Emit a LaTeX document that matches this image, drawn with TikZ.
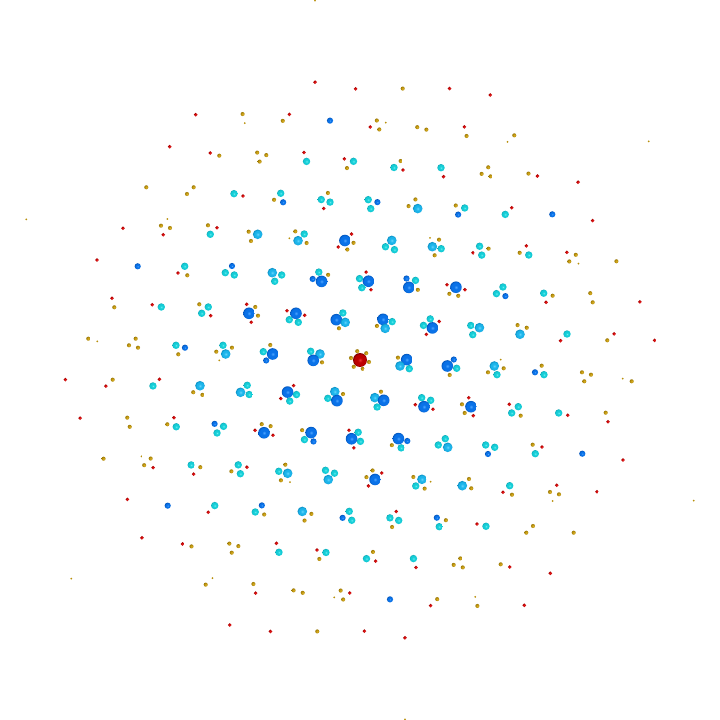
\documentclass[tikz,border=0pt]{standalone}
\usepackage{etoolbox}
\definecolor{Bhi}{HTML}{4CA4FF}\definecolor{Bmid}{HTML}{0A72E8}\definecolor{Bedge}{HTML}{0054BC}
\definecolor{Chi}{HTML}{6AD8FF}\definecolor{Cmid}{HTML}{1CB4EA}\definecolor{Cedge}{HTML}{0A8CC0}
\definecolor{chi}{HTML}{6AF2F2}\definecolor{cmid}{HTML}{14CCD6}\definecolor{cedge}{HTML}{08A2B0}
\definecolor{Ghi}{HTML}{DDB22A}\definecolor{Gmid}{HTML}{B8900C}\definecolor{Gedge}{HTML}{8C6C00}
\definecolor{Rhi}{HTML}{E82424}\definecolor{Rmid}{HTML}{C40000}\definecolor{Redge}{HTML}{900000}
\definecolor{Xhi}{HTML}{E83030}\definecolor{Xmid}{HTML}{BC0000}\definecolor{Xedge}{HTML}{780000}
\pgfdeclareradialshading{shB}{\pgfpoint{0bp}{0bp}}{color(0bp)=(Bhi); color(9bp)=(Bmid); color(21bp)=(Bmid); color(25bp)=(Bedge); color(50bp)=(Bedge)}
\pgfdeclareradialshading{shb}{\pgfpoint{0bp}{0bp}}{color(0bp)=(Bhi); color(9bp)=(Bmid); color(21bp)=(Bmid); color(25bp)=(Bedge); color(50bp)=(Bedge)}
\pgfdeclareradialshading{shC}{\pgfpoint{0bp}{0bp}}{color(0bp)=(Chi); color(9bp)=(Cmid); color(21bp)=(Cmid); color(25bp)=(Cedge); color(50bp)=(Cedge)}
\pgfdeclareradialshading{shc}{\pgfpoint{0bp}{0bp}}{color(0bp)=(chi); color(9bp)=(cmid); color(21bp)=(cmid); color(25bp)=(cedge); color(50bp)=(cedge)}
\pgfdeclareradialshading{shG}{\pgfpoint{0bp}{0bp}}{color(0bp)=(Ghi); color(9bp)=(Gmid); color(21bp)=(Gmid); color(25bp)=(Gedge); color(50bp)=(Gedge)}
\pgfdeclareradialshading{shg}{\pgfpoint{0bp}{0bp}}{color(0bp)=(Gmid); color(50bp)=(Gmid)}
\pgfdeclareradialshading{shR}{\pgfpoint{0bp}{0bp}}{color(0bp)=(Rhi); color(9bp)=(Rmid); color(21bp)=(Rmid); color(25bp)=(Redge); color(50bp)=(Redge)}
\pgfdeclareradialshading{shX}{\pgfpoint{0bp}{0bp}}{color(0bp)=(Xhi); color(9bp)=(Xmid); color(21bp)=(Xmid); color(25bp)=(Xedge); color(50bp)=(Xedge)}
\def\radB{5.8}\def\radb{3.1}\def\radC{4.8}\def\radc{3.7}
\def\radG{2.05}\def\radg{1.0}\def\radR{1.9}\def\radX{7.0}
\newcommand\atom[3]{\shade[shading=sh#3] (#1,#2) circle[radius=\csname rad#3\endcsname];}
\begin{document}
\begin{tikzpicture}[x=1pt,y=-1pt]
\useasboundingbox (-360,-360) rectangle (360,360);
\csxappto{atb400}{\noexpand\atom{0}{0}{X}}
\foreach \ang in {0,60,...,300}{
 \foreach \qx/\qy/\qt in {
  9/2/G, 40/6/C, 49.3/8.7/c, 87.3/6/B, 96.7/8.3/c, 89.7/15/G, 134.3/6/C,
  137/14.7/c, 128/12.3/G, 143.7/8.3/G, 70.7/121.7/g, 23.7/40.3/B, 21/31.7/G,
  61.7/37.7/c, 70.7/40.3/c, 64/46.7/B, 55.3/44.7/R, 73/49.3/R, 108.7/37.7/R,
  102/44.3/G, 111/46.7/B, 104.7/53/G, 113.3/55.7/R, 149.3/44.3/R, 158.3/46.7/c,
  151.7/53/c, 160.7/55.7/G, 47.3/81/b, 85.3/78.7/c, 78.3/85/c, 87.7/87.3/C,
  125.7/85/c, 134.7/87.3/c, 128/94/b, 109/119/G, 102.3/125.7/C, 111.3/128.3/G,
  149.7/125.7/c, 143/132.3/R, 152/134.7/G, 181.7/5.7/G, 175/12.3/b, 184/14.7/c,
  222/12.3/G, 231/14.7/G, 224.3/21.3/G, 262.7/18.7/g, 271.7/21.3/G, 198.7/53/c,
  207.7/55.3/R, 245.7/52.7/G, 248/61.7/R, 172.7/84.7/G, 182/87/R, 175.3/93.7/c,
  222.3/93.7/b, 263/100/R, 196.7/125.3/R, 190/132/G, 199/134.3/G, 192.7/141/g,
  237/131.7/R, 333.7/140.7/g, 117/164/R, 126/166.3/c, 166.3/172.7/G,
  140.7/204.3/G, 149.7/207/R, 164.3/245.3/R, 173/166/G, 213.7/172.7/G,
  190.3/213.3/R}{
   \pgfmathsetmacro\rx{\qx*cos(\ang)-\qy*sin(\ang)}
   \pgfmathsetmacro\ry{\qx*sin(\ang)+\qy*cos(\ang)}
   \pgfmathtruncatemacro\bd{\ry+400}
   \csxappto{atb\bd}{\noexpand\atom{\rx}{\ry}{\qt}}
 }
}
\foreach \b in {0,...,800}{\csname atb\b\endcsname}
\end{tikzpicture}
\end{document}
